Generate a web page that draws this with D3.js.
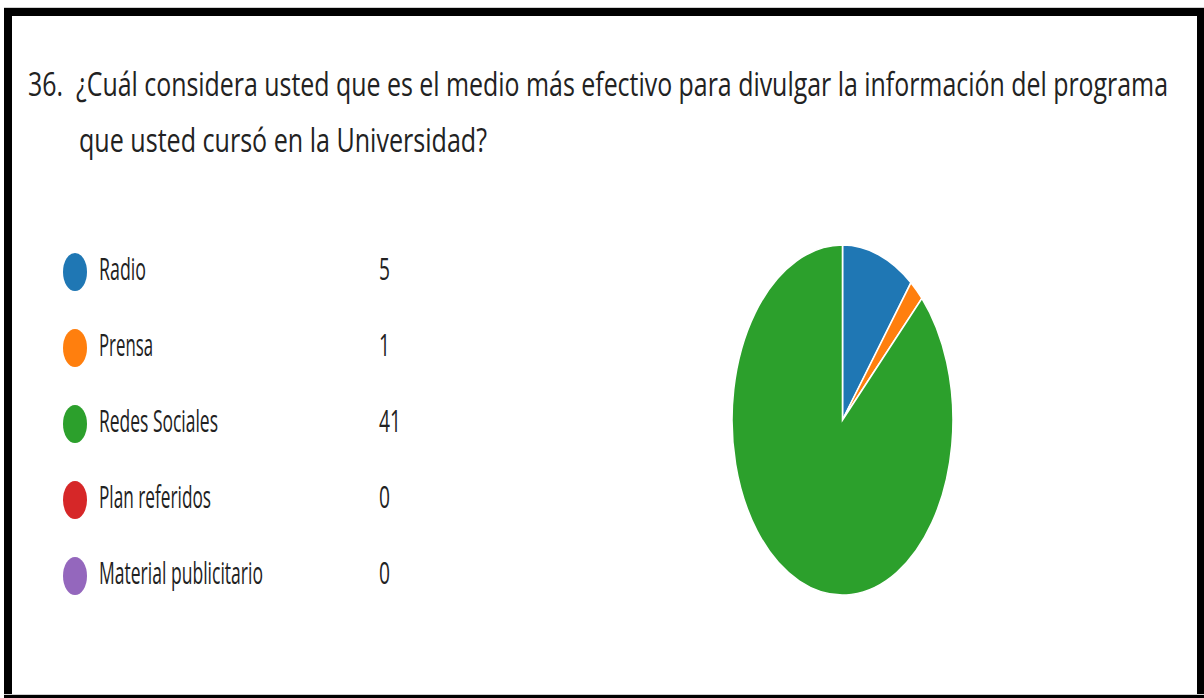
<!DOCTYPE html>
<html>
<head>
<meta charset="utf-8">
<script src="https://cdn.jsdelivr.net/npm/d3@7"></script>
<style>
  body { margin: 0; background: #fff; }
  svg { display: block; }
  text { font-family: "Open Sans", "Noto Sans", sans-serif; fill: #222; }
</style>
</head>
<body>
<svg id="chart"></svg>
<script>
// survey answers
const categories = ["Radio", "Prensa", "Redes Sociales", "Plan referidos", "Material publicitario"];
const counts = [5, 1, 41, 0, 0];
const colors = ["#1f77b4", "#ff7f0e", "#2ca02c", "#d62728", "#9467bd"];
const titleLines = [
    "36.  ¿Cuál considera usted que es el medio más efectivo para divulgar la información del programa",
    "que usted cursó en la Universidad?"
];

const W = 1204, H = 698;
let svg = d3.select('#chart').attr('width', W).attr('height', H);

// frame
svg.append('rect').attr('x', 4).attr('y', 7).attr('width', W - 4).attr('height', 1).attr('fill', '#d0d0d0');
svg.append('rect').attr('x', 4).attr('y', 8).attr('width', W - 4).attr('height', 8).attr('fill', '#000');
svg.append('rect').attr('x', 4).attr('y', 8).attr('width', 8).attr('height', H - 8).attr('fill', '#000');
svg.append('rect').attr('x', 1197).attr('y', 8).attr('width', 7).attr('height', H - 8).attr('fill', '#000');
svg.append('rect').attr('x', 4).attr('y', 694).attr('width', W - 4).attr('height', 1).attr('fill', '#cfcfcf');
svg.append('rect').attr('x', 4).attr('y', 695).attr('width', W - 4).attr('height', 3).attr('fill', '#000');

// title (the picture is squeezed sideways, so fit each line to its width)
const titleX = [28, 79], titleEnd = [1168, 487], titleY = [96, 152];
svg.selectAll('text.title')
    .data(titleLines).enter().append('text')
    .attr('class', 'title')
    .attr('x', (d, i) => titleX[i]).attr('y', (d, i) => titleY[i])
    .attr('font-size', 33)
    .attr('textLength', (d, i) => titleEnd[i] - titleX[i])
    .attr('lengthAdjust', 'spacingAndGlyphs')
    .style('white-space', 'pre')
    .text(d => d);

// legend
let scRow = d3.scalePoint()
    .domain(categories)
    .range([272, 576]);
const labelEnd = { "Radio": 146, "Prensa": 153, "Redes Sociales": 218, "Plan referidos": 211, "Material publicitario": 263 };

let legend = svg.selectAll('g.leg')
    .data(categories).enter().append('g')
    .attr('class', 'leg')
    .attr('transform', d => `translate(0,${scRow(d)})`);

legend.append('ellipse')
    .attr('cx', 75).attr('cy', 0)
    .attr('rx', 12).attr('ry', 19)
    .attr('fill', (d, i) => colors[i]);

legend.append('text')
    .attr('x', 99).attr('y', 8)
    .attr('font-size', 31)
    .attr('textLength', d => labelEnd[d] - 99)
    .attr('lengthAdjust', 'spacingAndGlyphs')
    .text(d => d);

// counts: same sideways squeeze as the labels
legend.append('text')
    .attr('transform', 'translate(379,8) scale(0.62,1)')
    .attr('font-size', 31)
    .text((d, i) => counts[i]);

// pie, drawn as a circle and squeezed into an ellipse
const cx = 842.5, cy = 420, rx = 110.5, ry = 175;
let pie = d3.pie().sort(null).value(d => d.value);
let arc = d3.arc().innerRadius(0).outerRadius(ry);
let slices = pie(categories.map((c, i) => ({ name: c, value: counts[i], color: colors[i] })));

svg.append('g')
    .attr('transform', `translate(${cx},${cy}) scale(${rx / ry},1)`)
    .selectAll('path')
    .data(slices.filter(d => d.data.value > 0)).enter().append('path')
    .attr('d', arc)
    .attr('fill', d => d.data.color)
    .attr('stroke', '#fff')
    .attr('stroke-width', 1.6)
    .attr('vector-effect', 'non-scaling-stroke');
</script>
</body>
</html>
